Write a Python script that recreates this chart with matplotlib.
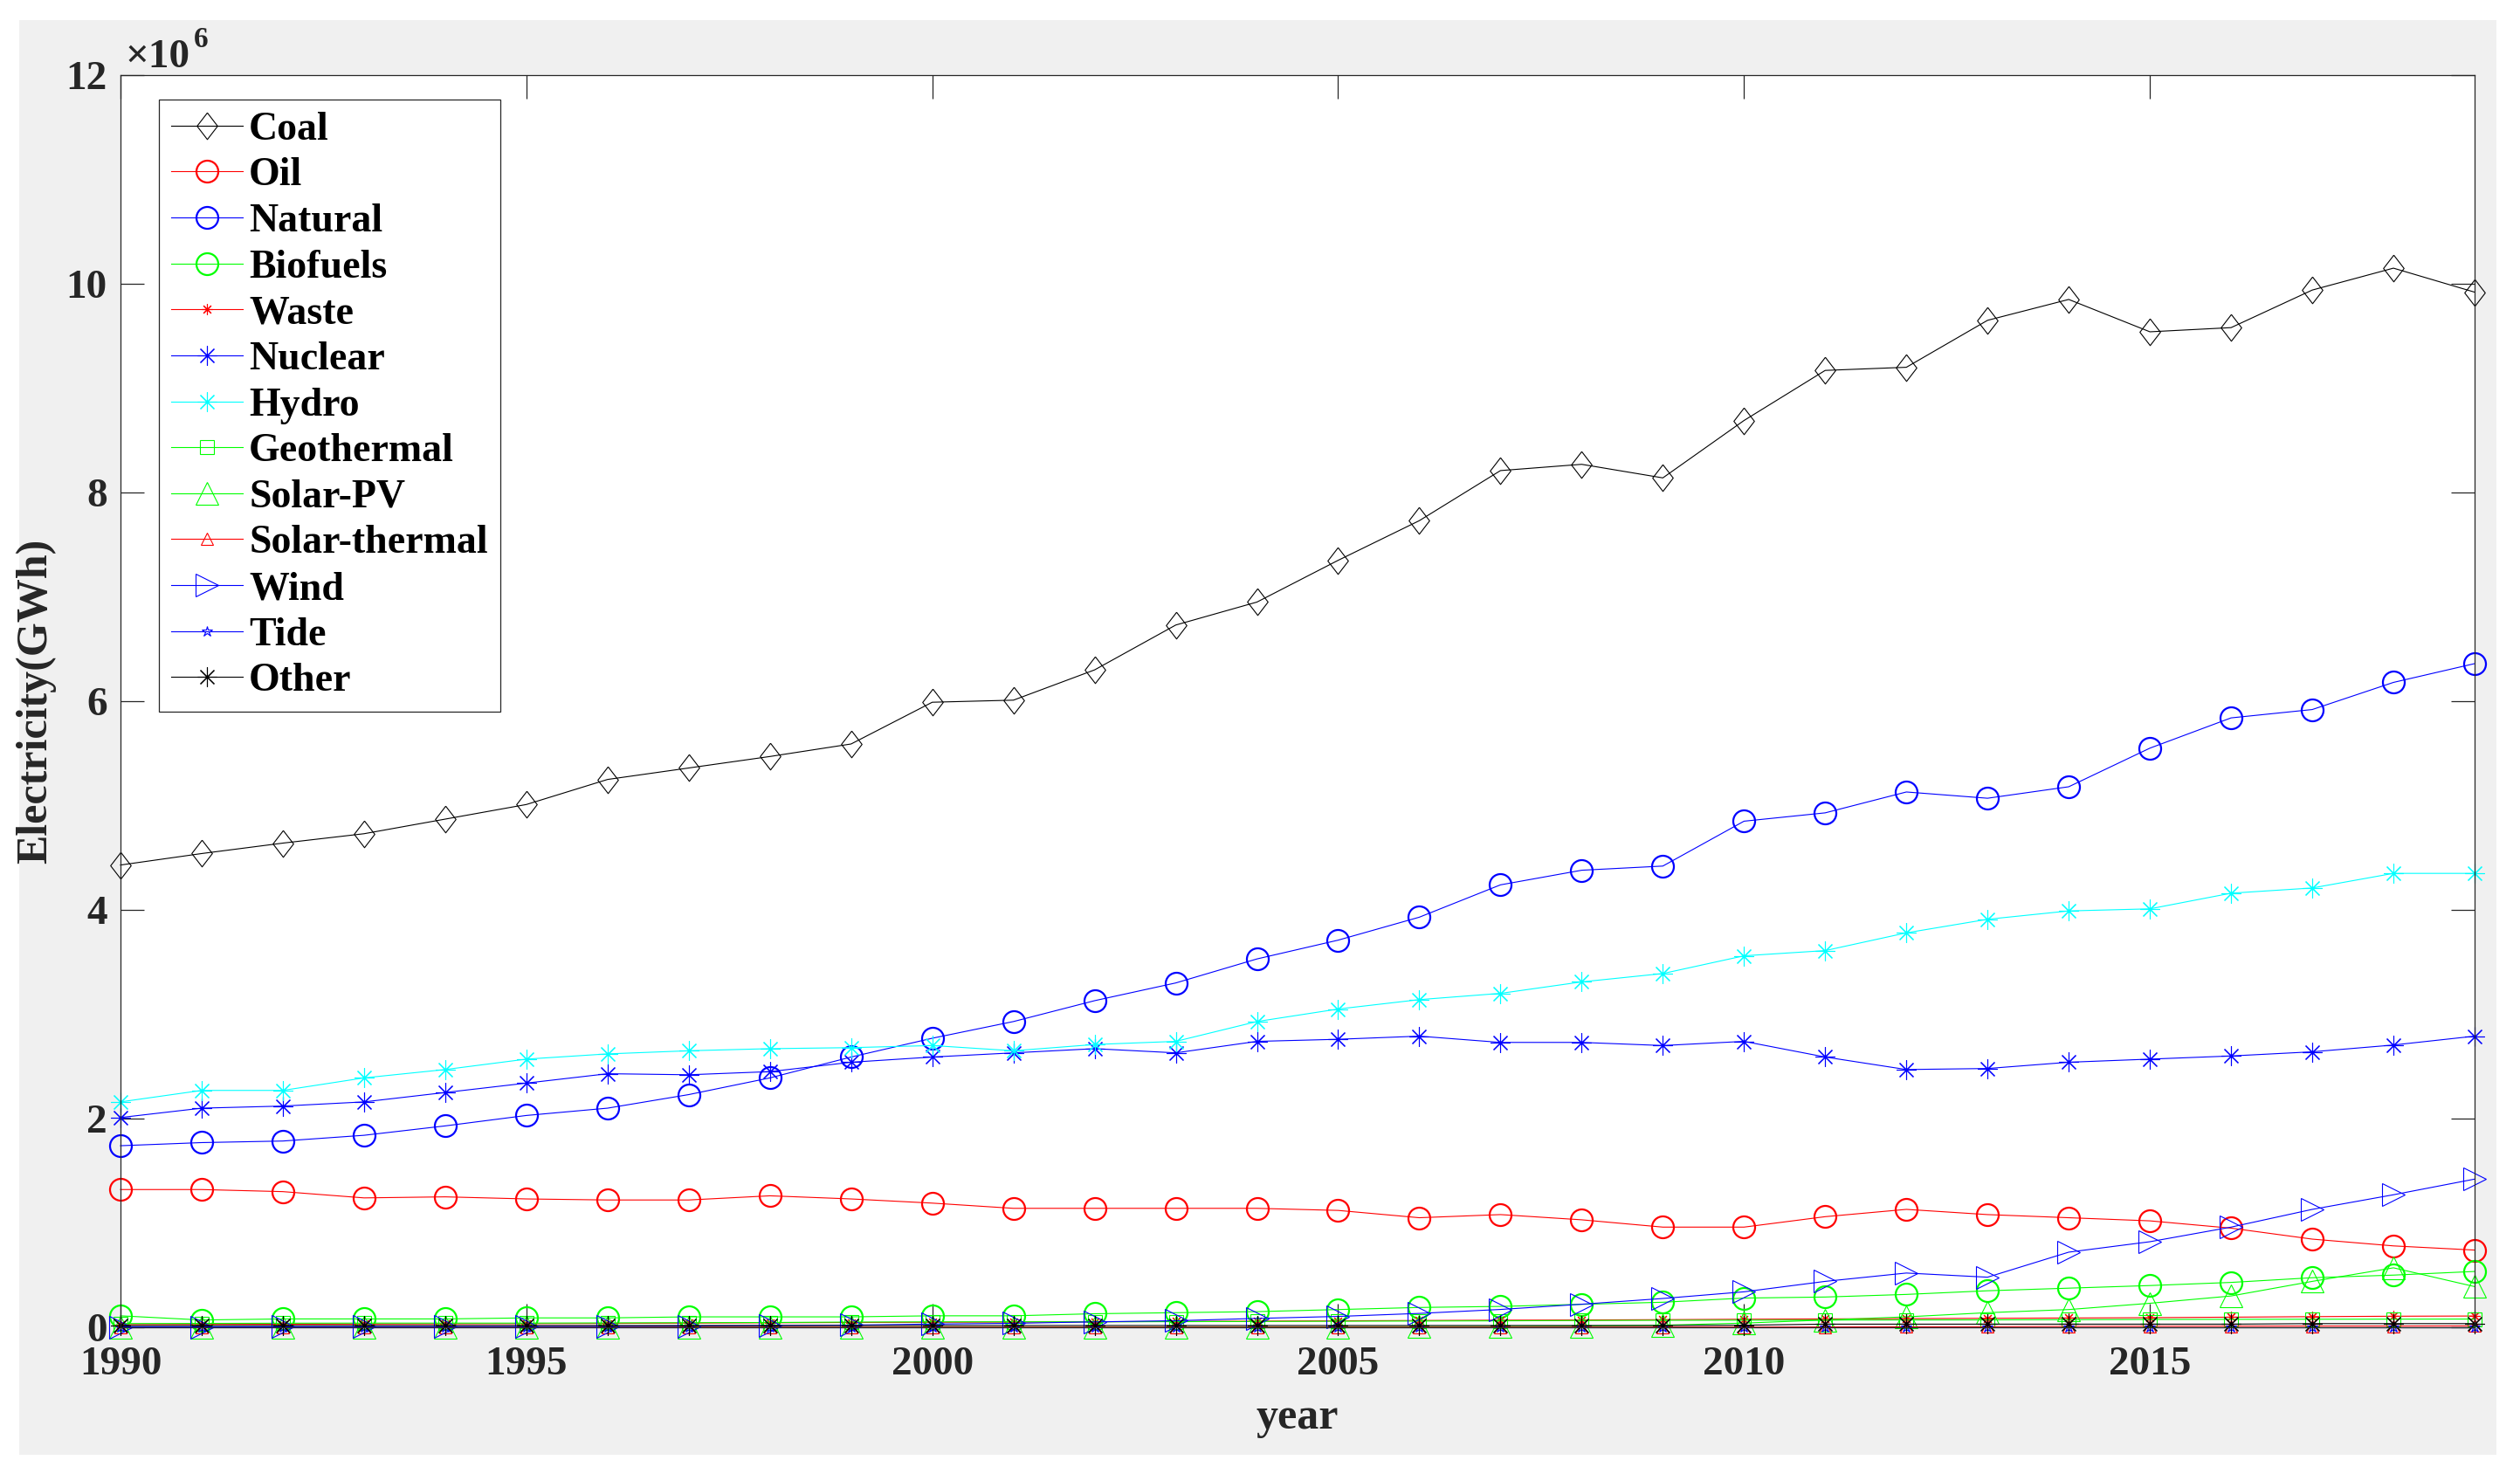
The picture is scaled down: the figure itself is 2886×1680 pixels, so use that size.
import matplotlib
matplotlib.use('Agg')
import matplotlib.pyplot as plt
from matplotlib.patches import Rectangle

# data, values in 10^6 GWh
years = list(range(1990, 2020))

coal = [4.43, 4.54, 4.64, 4.73, 4.87, 5.01, 5.25, 5.36, 5.47, 5.59,
        5.99, 6.01, 6.30, 6.73, 6.95, 7.35, 7.73, 8.21, 8.27, 8.14,
        8.69, 9.17, 9.20, 9.65, 9.85, 9.54, 9.58, 9.94, 10.15, 9.92]
oil = [1.32, 1.32, 1.30, 1.24, 1.25, 1.23, 1.22, 1.22, 1.26, 1.23,
       1.19, 1.14, 1.14, 1.14, 1.14, 1.12, 1.05, 1.08, 1.03, 0.96,
       0.96, 1.06, 1.13, 1.08, 1.05, 1.02, 0.95, 0.845, 0.78, 0.74]
natural = [1.74, 1.77, 1.785, 1.84, 1.93, 2.03, 2.10, 2.23, 2.39, 2.59,
           2.77, 2.93, 3.13, 3.30, 3.53, 3.71, 3.93, 4.24, 4.38, 4.42,
           4.85, 4.93, 5.13, 5.07, 5.18, 5.55, 5.84, 5.92, 6.18, 6.36]
biofuels = [0.11, 0.07, 0.08, 0.08, 0.08, 0.09, 0.09, 0.10, 0.10, 0.10,
            0.11, 0.11, 0.13, 0.14, 0.15, 0.17, 0.19, 0.20, 0.22, 0.24,
            0.28, 0.29, 0.315, 0.35, 0.375, 0.40, 0.43, 0.475, 0.50, 0.535]
waste = [0.025, 0.027, 0.029, 0.031, 0.033, 0.035, 0.037, 0.040, 0.043, 0.046,
         0.048, 0.050, 0.053, 0.056, 0.059, 0.062, 0.065, 0.068, 0.070, 0.073,
         0.077, 0.080, 0.083, 0.086, 0.089, 0.092, 0.097, 0.102, 0.106, 0.108]
nuclear = [2.01, 2.10, 2.12, 2.16, 2.25, 2.34, 2.43, 2.42, 2.45, 2.54,
           2.59, 2.63, 2.67, 2.63, 2.74, 2.76, 2.79, 2.73, 2.73, 2.70,
           2.74, 2.59, 2.47, 2.48, 2.54, 2.57, 2.60, 2.64, 2.705, 2.79]
hydro = [2.16, 2.27, 2.27, 2.39, 2.47, 2.57, 2.62, 2.65, 2.67, 2.68,
         2.70, 2.65, 2.71, 2.74, 2.93, 3.05, 3.14, 3.20, 3.31, 3.39,
         3.56, 3.61, 3.78, 3.91, 3.99, 4.01, 4.16, 4.21, 4.35, 4.35]
geothermal = [0.036, 0.037, 0.039, 0.040, 0.040, 0.040, 0.042, 0.044, 0.046, 0.050,
              0.052, 0.053, 0.052, 0.054, 0.056, 0.058, 0.060, 0.062, 0.065, 0.067,
              0.068, 0.069, 0.070, 0.071, 0.073, 0.075, 0.076, 0.077, 0.078, 0.079]
solar_pv = [0.0001, 0.0001, 0.0001, 0.0001, 0.0001, 0.0001, 0.0001, 0.0001, 0.0001, 0.0001,
            0.001, 0.001, 0.001, 0.002, 0.003, 0.004, 0.006, 0.008, 0.012, 0.02,
            0.04, 0.07, 0.10, 0.14, 0.17, 0.23, 0.30, 0.44, 0.57, 0.39]
solar_th = [0.0007, 0.0008, 0.0009, 0.001, 0.001, 0.001, 0.001, 0.001, 0.001, 0.001,
            0.001, 0.001, 0.001, 0.001, 0.001, 0.001, 0.001, 0.001, 0.001, 0.002,
            0.002, 0.003, 0.005, 0.006, 0.009, 0.010, 0.011, 0.012, 0.012, 0.013]
wind = [0.004, 0.004, 0.005, 0.006, 0.007, 0.008, 0.009, 0.012, 0.016, 0.021,
        0.031, 0.038, 0.052, 0.063, 0.085, 0.104, 0.133, 0.171, 0.221, 0.276,
        0.34, 0.44, 0.52, 0.48, 0.72, 0.82, 0.96, 1.13, 1.27, 1.42]
tide = [0.0006, 0.0006, 0.0006, 0.0006, 0.0006, 0.0006, 0.0006, 0.0006, 0.0006, 0.0006,
        0.0006, 0.0006, 0.0006, 0.0006, 0.0006, 0.0006, 0.0006, 0.0006, 0.0006, 0.0006,
        0.0006, 0.0006, 0.0006, 0.0006, 0.0006, 0.0006, 0.0006, 0.0006, 0.0006, 0.0006]
other = [0.017, 0.017, 0.017, 0.017, 0.017, 0.017, 0.017, 0.017, 0.017, 0.017,
         0.017, 0.017, 0.017, 0.017, 0.017, 0.017, 0.017, 0.017, 0.017, 0.017,
         0.020, 0.030, 0.030, 0.030, 0.030, 0.030, 0.030, 0.035, 0.035, 0.035]

labels = ['Coal', 'Oil', 'Natural', 'Biofuels', 'Waste', 'Nuclear', 'Hydro',
          'Geothermal', 'Solar-PV', 'Solar-thermal', 'Wind', 'Tide', 'Other']
xticks = [1990, 1995, 2000, 2005, 2010, 2015]
yticks = [0, 2, 4, 6, 8, 10, 12]

plt.rcParams['font.family'] = ['Liberation Serif', 'DejaVu Serif']
plt.rcParams['font.weight'] = 'bold'
plt.rcParams['axes.labelweight'] = 'bold'

DPI = 100
W, H = 2886, 1680
fig = plt.figure(figsize=(W / DPI, H / DPI), dpi=DPI)
fig.patch.set_facecolor('white')
# matlab grey figure area
fig.patches.append(Rectangle((22 / W, 1 - 1666 / H), (2859 - 22) / W, (1666 - 23) / H,
                             transform=fig.transFigure, facecolor='#f0f0f0',
                             edgecolor='none', zorder=-10))

ax = fig.add_axes([138 / W, 1 - 1520 / H, (2834 - 138) / W, (1520 - 86) / H])
ax.set_facecolor('white')

# tall diamond like the matlab one
diamond = [(0, 1), (0.77, 0), (0, -1), (-0.77, 0), (0, 1)]
star = (8, 2, 0)
lw = 0.8
ckw = dict(mfc='none', mew=1.6)
tkw = dict(mfc='none', mew=0.8)

series = [
    (coal, 'black', diamond, 22, tkw),
    (oil, '#ff0000', 'o', 18, ckw),
    (natural, '#0000ff', 'o', 18, ckw),
    (biofuels, '#00ff00', 'o', 18, ckw),
    (waste, '#ff0000', star, 9, tkw),
    (nuclear, '#0000ff', star, 16, tkw),
    (hydro, '#00ffff', star, 16, tkw),
    (geothermal, '#00ff00', 's', 12, tkw),
    (solar_pv, '#00ff00', '^', 19, tkw),
    (solar_th, '#ff0000', '^', 10, tkw),
    (wind, '#0000ff', '>', 18.5, tkw),
    (tide, '#0000ff', '*', 9, tkw),
    (other, 'black', star, 16, tkw),
]

handles = []
for (vals, col, mk, ms, kw), lab in zip(series, labels):
    h, = ax.plot(years, vals, color=col, lw=lw, marker=mk, ms=ms, mec=col,
                 label=lab, clip_on=False, **kw)
    handles.append(h)

ax.set_xlim(1990, 2019)
ax.set_ylim(0, 12)
ax.set_xticks(xticks)
ax.set_yticks(yticks)
ax.set_yticklabels([str(v) for v in yticks])

for s in ax.spines.values():
    s.set_color('#262626')
    s.set_linewidth(0.9)
ax.tick_params(direction='in', top=True, right=True, length=19.5, width=0.9,
               color='#262626', labelcolor='#262626', labelsize=34)
ax.tick_params(axis='x', pad=16)
ax.tick_params(axis='y', pad=11)

ax.set_xlabel('year', fontsize=36, color='#262626', labelpad=12)
ax.set_ylabel('Electricity(GWh)', fontsize=36, color='#262626', labelpad=8)

# exponent label like matlab
fig.text(143 / W, 1 - 77 / H, '\u00d710', fontsize=34, color='#262626',
         ha='left', va='baseline')
fig.text(222 / W, 1 - 54 / H, '6', fontsize=24, color='#262626',
         ha='left', va='baseline')

leg = ax.legend(handles=handles, loc='upper left',
                bbox_to_anchor=((182 - 138) / 2696, (1520 - 114) / 1434),
                borderaxespad=0, numpoints=1, fontsize=33, frameon=True,
                fancybox=False, edgecolor='#262626', framealpha=1,
                handlelength=1.8, handletextpad=0.15, labelspacing=0.23,
                borderpad=0.3)
leg.get_frame().set_linewidth(0.9)

fig.savefig('out.png', dpi=DPI)
